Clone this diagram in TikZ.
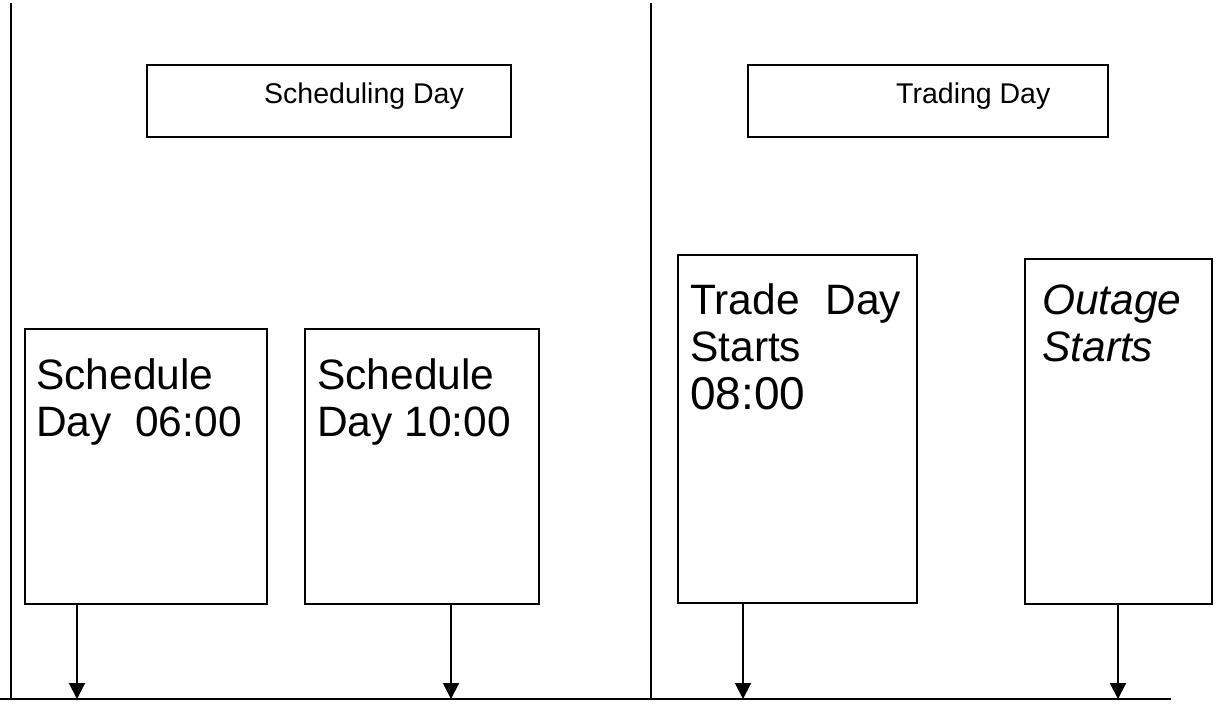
\documentclass[tikz,border=0pt]{standalone}
\usepackage{fontspec}
\setmainfont{Liberation Sans}
\usetikzlibrary{arrows.meta,calc}
\tikzset{
  ln/.style={line width=2pt},
  boxshape/.style={draw, line width=2pt, rectangle, inner sep=0pt, anchor=north west},
  bigtext/.style={inner sep=0pt, anchor=base west, font=\fontsize{42.5pt}{47pt}\selectfont},
  smalltext/.style={inner sep=0pt, anchor=base west, font=\fontsize{28.5pt}{32pt}\selectfont},
  arr/.style={line width=2pt, -{Triangle[width=16pt,length=16pt]}},
}
\begin{document}
\begin{tikzpicture}[x=1pt,y=-1pt]
\useasboundingbox (0,0) rectangle (1225,708);
% timeline and dividers
\coordinate (L) at (0,699);
\coordinate (R) at (1171,699);
\coordinate (v1t) at (11,3);
\coordinate (v1b) at (11,699);
\coordinate (v2t) at (651,3);
\coordinate (v2b) at (651,699);
\draw[ln] (L) -- (R);
\draw[ln] (v1t) -- (v1b);
\draw[ln] (v2t) -- (v2b);
% header boxes
\node[boxshape, minimum width=364pt, minimum height=72pt] (sd) at (146,64.5) {};
\node[smalltext] (sdt) at (264,104) {Scheduling Day};
\node[boxshape, minimum width=360pt, minimum height=72pt] (td) at (747,64.5) {};
\node[smalltext] (tdt) at (896,104) {Trading Day};
% event boxes
\node[boxshape, minimum width=242pt, minimum height=275pt] (b1) at (24,328) {};
\node[bigtext] (b1t) at (36,389) {\parbox[t]{225pt}{\raggedright Schedule\\Day\ \ 06:00}};
\node[boxshape, minimum width=234pt, minimum height=275pt] (b2) at (304,328) {};
\node[bigtext] (b2t) at (317,389) {\parbox[t]{215pt}{\raggedright Schedule\\Day 10:00}};
\node[boxshape, minimum width=239pt, minimum height=348pt] (b3) at (677,254) {};
\node[bigtext] (b3t) at (690,315) {\parbox[t]{211pt}{Trade\hfill Day\\Starts\\[1pt]{\fontsize{46pt}{48pt}\selectfont 08:00}}};
\node[boxshape, minimum width=187pt, minimum height=345pt] (b4) at (1024,258) {};
\node[bigtext] (b4t) at (1042,315) {\parbox[t]{160pt}{\raggedright\itshape Outage\\Starts}};
% arrows to timeline
\coordinate (a1) at (77,699);
\coordinate (a2) at (451,699);
\coordinate (a3) at (743,699);
\coordinate (a4) at (1118,699);
\draw[arr] (a1 |- b1.south) -- (a1);
\draw[arr] (a2 |- b2.south) -- (a2);
\draw[arr] (a3 |- b3.south) -- (a3);
\draw[arr] (a4 |- b4.south) -- (a4);
\end{tikzpicture}
\end{document}
